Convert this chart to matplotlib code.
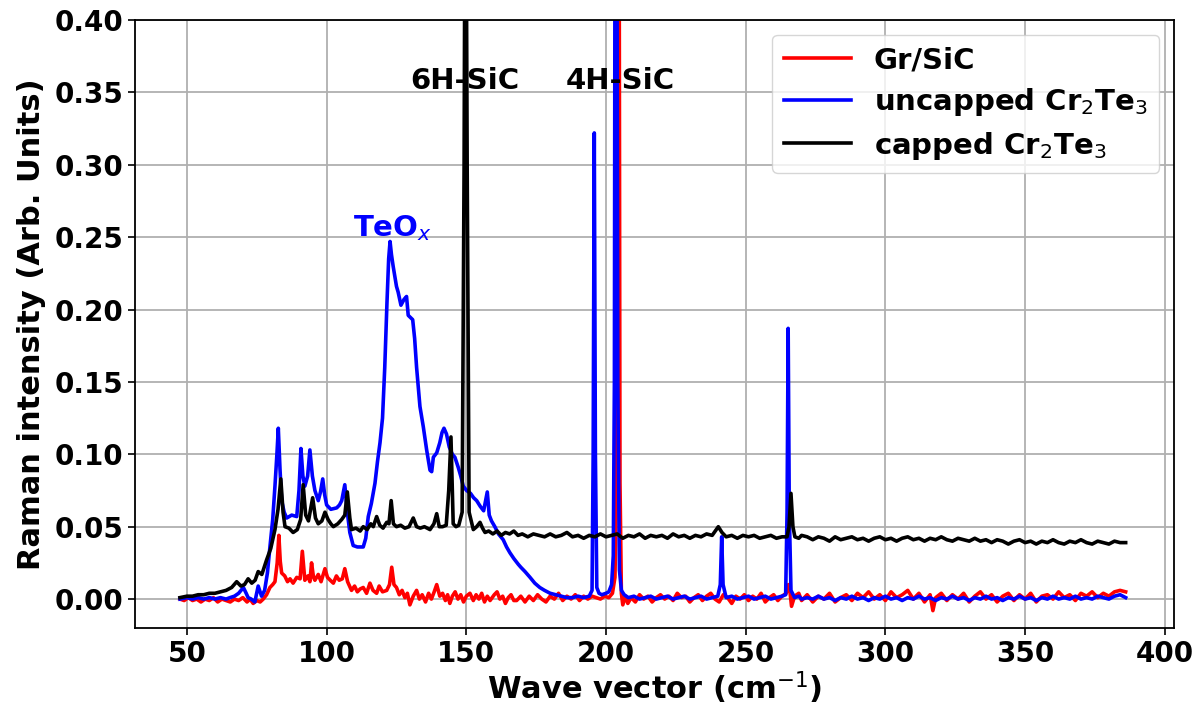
import numpy as np
import matplotlib
matplotlib.use('Agg')
import matplotlib.pyplot as plt

# (wave vector, intensity)
gr_sic = [
    (47.5, .000), (49, -.001), (50.5, .001), (52, -.001), (53.5, .000), (55, -.002),
    (56.5, .000), (58, -.001), (59.5, .001), (61, -.002), (62.5, .000), (64, -.001),
    (65.5, -.002), (67, .000), (68.5, -.001), (70, .001), (71.5, -.002), (72.6, .000),
    (73.7, -.003), (75, -.001), (76.2, -.002), (77.3, .000), (78.5, .003), (79.7, .008),
    (80.7, .010), (81.5, .012), (82.3, .025), (82.9, .044), (83.4, .026), (83.9, .018),
    (85, .016), (86, .012), (86.9, .014), (88, .011), (89.3, .015), (90.5, .014),
    (91.3, .033), (92.2, .013), (93.3, .016), (94, .012), (94.6, .025), (95.3, .015),
    (95.8, .013), (97, .017), (98, .012), (99.4, .021), (100.3, .015), (101.3, .013),
    (102.4, .011), (103.5, .016), (104.5, .013), (105.6, .014), (106.5, .021), (107.5, .012),
    (108.9, .006), (110, .009), (111, .005), (112, .007), (113.1, .008), (114.3, .004),
    (115.5, .011), (116.6, .006), (117.9, .004), (118.8, .009), (120, .005), (121.5, .006),
    (122.5, .010), (123.3, .022), (124.1, .010), (125, .008), (126, .003), (127, .006),
    (128, .001), (128.9, .004), (129.8, -.004), (131, .002), (132.2, .006), (133.2, .000),
    (134.2, .003), (135.4, -.002), (136.5, .004), (137.5, .000), (138.5, .005), (139.4, .010),
    (140.5, .002), (141.5, .004), (142.5, -.001), (143.3, .003), (144.1, -.003), (145, .002),
    (146, .005), (147, .000), (148, .003), (149, -.002), (150, .002), (151.3, .004),
    (152.5, -.001), (153.5, .003), (154.5, .000), (155.5, .004), (156.5, -.002), (157.5, .002),
    (158.5, -.001), (160, .003), (161, .005), (162, .000), (163, .002), (164, -.003),
    (165, .001), (166, .003), (167, -.001), (168, -.001), (169.5, .002), (171, -.002),
    (172.5, .002), (174, -.001), (175.5, .003), (177, .000), (178.5, -.002), (180, .002),
    (181.5, .000), (183, .004), (184.5, -.001), (186, .002), (187.5, .000), (189, .003),
    (190.5, -.001), (192, .002), (193.5, .000), (195, .002), (196.5, .001), (198, .000),
    (199.5, .002), (201, .001), (202.3, .004), (203.2, .015), (203.8, .080), (204.2, .600),
    (204.6, .600), (205.0, .080), (205.5, .004), (206, -.004), (207, .002), (207.8, -.003),
    (209, .001), (210.5, -.002), (212, .003), (213.5, .000), (215, .002), (216.5, -.002),
    (218, .001), (219.5, .003), (221, .000), (222.5, .002), (224, -.001), (225.5, .004),
    (227, .001), (228.5, .002), (230, -.002), (231.5, .001), (233, .003), (234.5, -.001),
    (236, .002), (237.5, .004), (239, .000), (240.5, -.002), (242, .003), (243.5, .001),
    (245, -.003), (246.5, .002), (248, .000), (249.5, .003), (251, -.001), (252.5, .002),
    (254, .000), (255.5, .004), (257, -.002), (258.5, .001), (260, .003), (261.5, -.001),
    (263, .002), (264.5, .004), (265.3, .010), (265.8, .006), (266.4, -.005), (267.5, .002),
    (269, .004), (270, -.001), (272, .003), (274, -.002), (276, .002), (278, .000),
    (280, .004), (282, -.002), (284, .001), (286, .003), (288, -.001), (290, .004),
    (292, .001), (294, .005), (296, .000), (298, .003), (300, -.001), (302, .005),
    (304, .001), (306, .003), (308, .006), (310, .000), (312, .004), (314, -.002),
    (316, .003), (317, -.008), (318, .001), (320, .004), (322, -.001), (324, .003),
    (326, .000), (328, .004), (330, -.002), (332, .002), (334, .005), (336, .000),
    (338, .003), (340, -.002), (342, .002), (344, .004), (346, -.001), (348, .003),
    (350, .000), (352, .004), (354, -.002), (356, .002), (358, .003), (360, .000),
    (362, .005), (364, .001), (366, .003), (368, -.001), (370, .004), (372, .002),
    (374, .005), (376, .001), (378, .004), (380, .002), (382, .005), (384, .006),
    (386, .005),
]

uncapped = [
    (47.5, .000), (50, .001), (52, .000), (54, .001), (56, .000), (58, .001),
    (60, .000), (62, .001), (64, .000), (65.4, .001), (67, .002), (68.5, .004),
    (70.2, .008), (71.2, .004), (71.9, .001), (73, .000), (74.3, -.002), (75.5, .009),
    (76.7, .002), (77.8, .006), (78.8, .018), (79.7, .036), (80.7, .055), (81.5, .078),
    (82.2, .100), (82.7, .118), (83.3, .090), (83.9, .068), (84.8, .060), (85.7, .056),
    (87.5, .058), (89.3, .057), (90.1, .075), (90.8, .104), (91.5, .085), (92.2, .078),
    (93.2, .085), (94, .103), (94.9, .085), (95.8, .075), (97, .068), (97.8, .074),
    (98.6, .083), (99.3, .072), (100, .065), (101.5, .062), (103.6, .063), (104.6, .065),
    (105.4, .068), (106.5, .079), (107.4, .060), (108.3, .046), (109.5, .037), (111, .036),
    (113.1, .036), (114, .042), (114.9, .057), (116, .066), (117.3, .080), (118.2, .095),
    (119.1, .108), (120, .125), (120.8, .160), (121.6, .205), (122.2, .235), (122.7, .247),
    (123.2, .238), (123.8, .230), (125, .216), (125.6, .212), (126.6, .203), (127.7, .207),
    (128.6, .209), (129.2, .196), (130.8, .193), (131.5, .180), (132.2, .160), (133.4, .133),
    (134.6, .119), (135.8, .103), (137, .089), (137.6, .088), (138.2, .098), (139.4, .101),
    (140.5, .108), (141.3, .115), (142, .118), (142.9, .114), (143.9, .105), (145, .100),
    (145.9, .098), (147.1, .091), (148, .085), (148.9, .078), (150.1, .075), (151.5, .073),
    (152.6, .070), (153.7, .068), (155, .064), (156.2, .061), (156.9, .068), (157.5, .074),
    (158.2, .058), (159, .054), (160.2, .050), (161.5, .045), (163.2, .041), (164.4, .036),
    (165.6, .032), (167, .028), (168.6, .024), (169.5, .022), (171, .019), (172.8, .015),
    (174.5, .011), (176.3, .008), (178, .006), (180, .004), (182, .003), (184, .002),
    (186, .001), (188, .001), (190, .002), (192, .001), (194, .002), (195, .006),
    (195.4, .100), (195.8, .322), (196.2, .100), (196.7, .008), (197.5, .004), (198.5, .003),
    (200, .004), (201, .005), (202, .010), (202.6, .030), (203, .150), (203.3, .600),
    (203.8, .600), (204.2, .150), (204.8, .020), (205.5, .006), (206.5, .003), (208, .001),
    (210, .002), (212, .000), (214, .001), (216, .002), (218, .000), (220, .001),
    (222, .002), (224, .000), (226, .001), (228, .002), (230, .000), (232, .001),
    (234, .002), (236, .000), (238, .001), (240, .002), (240.9, .010), (241.4, .043),
    (241.9, .010), (243, .001), (245, .002), (247, .000), (249, .001), (251, .002),
    (253, .000), (255, .001), (257, .002), (259, .000), (261, .001), (263, .002),
    (264.3, .003), (264.8, .060), (265.2, .187), (265.6, .060), (266.2, .006), (267.5, .001),
    (269, .002), (270, .000), (272, .001), (274, .000), (276, .002), (278, .000),
    (280, .001), (282, -.001), (284, .001), (286, .000), (288, .002), (290, .000),
    (292, .001), (294, -.001), (296, .001), (298, .000), (300, .002), (302, .000),
    (304, .001), (306, -.001), (308, .001), (310, .000), (312, .002), (314, .000),
    (316, .001), (318, -.001), (320, .001), (322, .000), (324, .002), (326, .000),
    (328, .001), (330, -.001), (332, .001), (334, .000), (336, .002), (338, .000),
    (340, .001), (342, -.001), (344, .001), (346, .000), (348, .002), (350, .000),
    (352, .001), (354, -.001), (356, .001), (358, .000), (360, .002), (362, .000),
    (364, .001), (366, .000), (368, .002), (370, .000), (372, .001), (374, .000),
    (376, .002), (378, .001), (380, .000), (382, .002), (384, .003), (386, .001),
]

capped = [
    (47.5, .001), (50, .002), (52, .002), (54, .003), (56, .003), (58, .004),
    (60, .004), (62, .005), (64, .006), (66, .008), (67.8, .012), (69.3, .009),
    (70.6, .010), (71.9, .014), (73.2, .011), (74.4, .013), (75.5, .019), (76.8, .017),
    (78.5, .027), (80, .035), (81.5, .048), (82.6, .062), (83.6, .083), (84.4, .060),
    (85.1, .050), (86.5, .049), (88, .046), (89.5, .048), (90.7, .055), (91.6, .079),
    (92.5, .058), (93.5, .054), (95, .070), (96, .056), (97, .052), (98.3, .054),
    (99.4, .060), (100.5, .055), (101.5, .052), (102.4, .050), (104, .052), (105.4, .055),
    (106.5, .058), (107.4, .074), (108.3, .056), (108.9, .048), (110.5, .049), (112, .047),
    (113.1, .050), (114.5, .048), (115.8, .052), (116.7, .050), (117.9, .057), (119, .051),
    (120.2, .049), (121.5, .053), (122.3, .052), (123.1, .068), (123.9, .052), (125, .050),
    (126.5, .051), (128, .049), (129.5, .050), (131, .056), (132.2, .050), (133.5, .049),
    (135, .050), (137, .048), (138.4, .052), (139.4, .059), (140.3, .050), (141.5, .050),
    (142.8, .051), (143.7, .075), (144.5, .112), (145.3, .052), (146.3, .050), (147.3, .051),
    (148.5, .060), (149.2, .300), (149.7, .600), (150.3, .300), (151, .060), (152.5, .048),
    (153.7, .050), (154.9, .053), (155.8, .049), (156.7, .046), (158, .047), (159.5, .045),
    (161, .047), (162.5, .044), (164, .046), (165.5, .045), (167, .047), (168.5, .044),
    (170, .045), (172, .043), (174, .045), (176, .044), (178, .043), (180, .045),
    (182, .043), (184, .044), (186, .046), (188, .043), (190, .044), (192, .042),
    (194, .044), (196, .043), (198, .045), (200, .043), (202, .044), (204, .045),
    (206, .042), (208, .044), (210, .043), (212, .045), (214, .042), (216, .044),
    (218, .043), (220, .044), (222, .042), (224, .045), (226, .043), (228, .044),
    (230, .042), (232, .044), (234, .043), (236, .045), (238, .044), (240.2, .050),
    (241.5, .046), (243, .043), (245, .044), (247, .042), (249, .044), (251, .043),
    (253, .044), (255, .042), (257, .043), (259, .044), (261, .042), (263, .043),
    (264.8, .043), (265.5, .050), (266.2, .073), (266.9, .050), (267.6, .043), (269, .042),
    (270, .044), (272, .043), (274, .041), (276, .043), (278, .042), (280, .040),
    (282, .043), (284, .041), (286, .042), (288, .043), (290, .041), (292, .042),
    (294, .040), (296, .042), (298, .043), (300, .041), (302, .042), (304, .040),
    (306, .042), (308, .043), (310, .041), (312, .042), (314, .040), (316, .042),
    (318, .041), (320, .043), (322, .041), (324, .040), (326, .042), (328, .041),
    (330, .040), (332, .042), (334, .040), (336, .041), (338, .039), (340, .041),
    (342, .040), (344, .038), (346, .040), (348, .041), (350, .039), (352, .040),
    (354, .038), (356, .040), (358, .039), (360, .041), (362, .039), (364, .038),
    (366, .040), (368, .039), (370, .041), (372, .039), (374, .038), (376, .040),
    (378, .039), (380, .038), (382, .040), (384, .039), (386, .039),
]

labels = ['Gr/SiC', r'uncapped Cr$_2$Te$_3$', r'capped Cr$_2$Te$_3$']
colors = ['red', 'blue', 'black']

fig = plt.figure(figsize=(12.02, 7.07), dpi=100)
ax = fig.add_axes([0.1123, 0.1117, 0.8644, 0.8600])

for data, lab, c in zip([gr_sic, uncapped, capped], labels, colors):
    x, y = np.array(data).T
    ax.plot(x, y, color=c, lw=2.6, label=lab)

ax.set_xlim(31.4, 403.3)
ax.set_ylim(-0.02, 0.40)
ax.set_xticks([50, 100, 150, 200, 250, 300, 350, 400])
ax.set_yticks(np.arange(0, 0.41, 0.05))
ax.yaxis.set_major_formatter(matplotlib.ticker.FormatStrFormatter('%.2f'))
ax.grid(True, color='#b0b0b0', lw=1.3)
ax.set_axisbelow(True)

for lbl in ax.get_xticklabels() + ax.get_yticklabels():
    lbl.set_fontsize(20)
    lbl.set_fontweight('bold')
ax.tick_params(width=1.2, length=5)
for sp in ax.spines.values():
    sp.set_linewidth(1.3)

ax.set_xlabel(r'Wave vector (cm$^{-1}$)', fontsize=22, fontweight='bold', labelpad=1)
ax.set_ylabel('Raman intensity (Arb. Units)', fontsize=22, fontweight='bold', labelpad=6)

ax.text(149.5, 0.358, '6H-SiC', fontsize=21, fontweight='bold', ha='center', va='center')
ax.text(205, 0.358, '4H-SiC', fontsize=21, fontweight='bold', ha='center', va='center')
ax.text(123.7, 0.256, r'TeO$_x$', fontsize=21, fontweight='bold', color='blue',
        ha='center', va='center')

ax.legend(loc='upper right', prop={'size': 21, 'weight': 'bold'}, handlelength=2.3,
          labelspacing=0.4)

fig.savefig('out.png', dpi=100)
